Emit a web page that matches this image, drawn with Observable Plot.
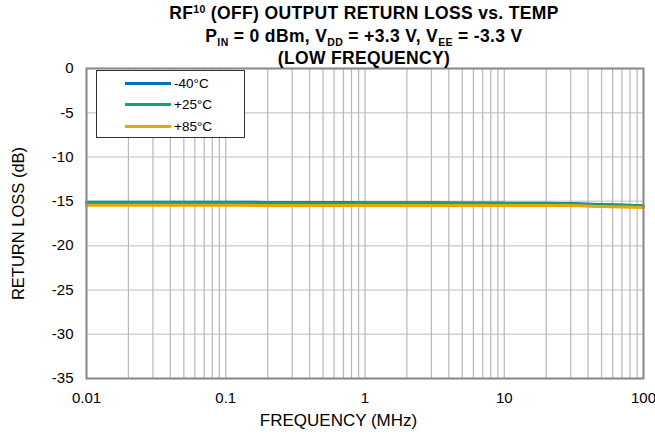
<!DOCTYPE html>
<html><head><meta charset="utf-8">
<script src="https://cdn.jsdelivr.net/npm/d3@7"></script>
<script src="https://cdn.jsdelivr.net/npm/@observablehq/plot@0.6"></script>
<style>
body{margin:0;background:#fff;font-family:"Liberation Sans",Arial,sans-serif;}
#wrap{position:relative;width:655px;height:438px;}
.tl{position:absolute;left:64px;width:600px;text-align:center;font-weight:bold;font-size:17.5px;line-height:17.5px;letter-spacing:0.35px;color:#000;white-space:nowrap;}
.tl sup{font-size:10.5px;vertical-align:6px;line-height:0;}
.tl sub{font-size:10.5px;vertical-align:-4px;line-height:0;}
#legend{position:absolute;left:96px;top:70px;width:147px;height:66px;border:1px solid #333;background:#fff;font-size:13.5px;}
.row{position:absolute;left:28px;height:14px;display:flex;align-items:center;}
.sw{width:46px;height:3px;margin-right:3px;}
</style></head>
<body>
<div id="wrap">
<div id="chart"></div>
<div class="tl" style="top:5px">RF<sup>10</sup> (OFF) OUTPUT RETURN LOSS vs. TEMP</div>
<div class="tl" style="top:28px">P<sub>IN</sub> = 0 dBm, V<sub>DD</sub> = +3.3 V, V<sub>EE</sub> = -3.3 V</div>
<div class="tl" style="top:50px">(LOW FREQUENCY)</div>
<div id="legend"></div>
</div>
<script>
const freqMHz = [0.01, 0.02, 0.05, 0.1, 0.2, 0.5, 1, 2, 5, 10, 20, 30, 50, 70, 100];
const rlM40 = [-15.1, -15.1, -15.1, -15.1, -15.12, -15.12, -15.15, -15.15, -15.18, -15.2, -15.22, -15.25, -15.35, -15.42, -15.5];
const rl25  = [-15.15, -15.15, -15.15, -15.17, -15.18, -15.2, -15.2, -15.2, -15.22, -15.25, -15.27, -15.3, -15.4, -15.45, -15.52];
const rl85  = [-15.45, -15.45, -15.45, -15.45, -15.47, -15.48, -15.48, -15.47, -15.47, -15.47, -15.47, -15.48, -15.58, -15.65, -15.7];
const seriesNames = ["-40°C", "+25°C", "+85°C"];
const seriesColors = ["#0072bd", "#12a37c", "#eba400"];
const xTicks = [0.01, 0.1, 1, 10, 100];
const yTicks = [0, -5, -10, -15, -20, -25, -30, -35];

const allSeries = [rlM40, rl25, rl85];
const data = [];
allSeries.forEach((arr, si) => arr.forEach((v, i) => data.push({f: freqMHz[i], rl: v, s: seriesNames[si]})));

const minorGrid = [];
for (let e = -2; e < 2; e++) for (let m = 1; m < 10; m++) minorGrid.push(m * Math.pow(10, e));
minorGrid.push(100);

const plot = Plot.plot({
  width: 655, height: 438,
  marginLeft: 86, marginRight: 12, marginTop: 68, marginBottom: 60,
  style: {fontFamily: '"Liberation Sans", Arial, sans-serif', fontSize: "15px", color: "#000", background: "#fff"},
  x: {type: "log", domain: [0.01, 100], ticks: xTicks, tickFormat: d => String(d), label: null},
  y: {domain: [-35, 0], ticks: yTicks, label: null},
  color: {domain: seriesNames, range: seriesColors},
  marks: [
    Plot.ruleY(yTicks, {stroke: "#d4d4d4", strokeWidth: 1.5}),
    Plot.ruleX(minorGrid, {stroke: "#b8b8b8", strokeWidth: 1.2}),
    Plot.line(data, {x: "f", y: "rl", z: "s", stroke: "s", strokeWidth: 3, curve: "monotone-x"}),
    Plot.axisX(xTicks, {tickSize: 0, tickPadding: 14, fontSize: 15, label: null, tickFormat: d => String(d)}),
    Plot.axisY(yTicks, {tickSize: 0, tickPadding: 13, fontSize: 15, label: null, tickFormat: d => String(d)}),
    Plot.frame({stroke: "#8a8a8a", strokeWidth: 2}),
    Plot.text(["FREQUENCY (MHz)"], {frameAnchor: "bottom-left", dx: 252, dy: 47, fontSize: 17, textAnchor: "middle"}),
    Plot.text(["RETURN LOSS (dB)"], {frameAnchor: "left", dx: -68, rotate: -90, fontSize: 16.5, textAnchor: "middle"})
  ]
});
document.getElementById("chart").appendChild(plot);

const leg = document.getElementById("legend");
seriesNames.forEach((n, i) => {
  const r = document.createElement("div");
  r.className = "row";
  r.style.top = (5 + i * 21.5) + "px";
  r.innerHTML = `<div class="sw" style="background:${seriesColors[i]}"></div><span>${n}</span>`;
  leg.appendChild(r);
});
</script>
</body></html>
